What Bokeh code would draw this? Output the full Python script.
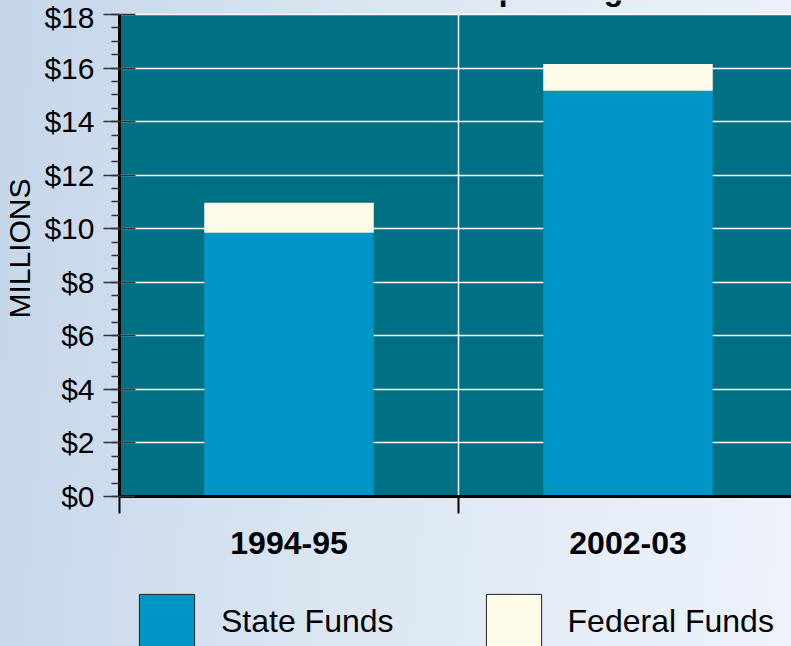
from bokeh.plotting import figure
from bokeh.layouts import column
from bokeh.models import (Range1d, LinearAxis, FixedTicker, SingleIntervalTicker,
                          Legend, LegendItem, Label, ColumnDataSource, Grid, BoxAnnotation)
from bokeh.embed import file_html
from bokeh.resources import INLINE

# ---- data ----
years = ["1994-95", "2002-03"]
state_funds = [9.85, 15.15]
federal_funds = [1.12, 1.0]
y_tick_labels = ["$0", "$2", "$4", "$6", "$8", "$10", "$12", "$14", "$16", "$18"]
y_max = 18
series_names = ["State Funds", "Federal Funds"]
series_colors = ["#0096c8", "#fffbe9"]

FONT = "Liberation Sans"
W, H_MAIN, H_LEG = 791, 580, 66
FRAME_H = 496          # frame from canvas top to the x axis
TOP_GAP = 14           # px above the $18 line
FRAME_LEFT = 120

x_pos = [i + 0.5 for i in range(len(years))]
boundaries = list(range(1, len(years)))
src = ColumnDataSource(dict(x=x_pos, state=state_funds, federal=federal_funds))

px_per_unit = (FRAME_H - TOP_GAP) / y_max
p = figure(width=W, height=H_MAIN, output_backend="svg", toolbar_location=None,
           x_range=Range1d(0, 672 / 339),
           y_range=Range1d(0, y_max + TOP_GAP / px_per_unit),
           x_axis_location=None, y_axis_location=None,
           min_border_left=119, min_border_top=0, min_border_right=0,
           min_border_bottom=H_MAIN - FRAME_H)
p.border_fill_color = None
p.background_fill_color = None
p.outline_line_color = None
p.center = [r for r in p.center if not isinstance(r, Grid)]

# teal plot area (0 .. y_max)
p.add_layout(BoxAnnotation(bottom=0, top=y_max, fill_color="#007085", fill_alpha=1,
                           line_color=None, level="image"))

# vertical grid line between categories, limited to the plot area
p.segment(x0=boundaries, y0=[0] * len(boundaries), x1=boundaries,
          y1=[y_max] * len(boundaries), line_color="white", line_width=1.5,
          level="underlay")

# bars
p.vbar_stack(["state", "federal"], x="x", width=0.5, source=src,
             color=series_colors, line_color=None)

# horizontal grid
p.add_layout(Grid(dimension=1, ticker=SingleIntervalTicker(interval=2),
                  grid_line_color="white", grid_line_width=1.5, bounds=(0, y_max)))

# left axis
yax = LinearAxis(ticker=SingleIntervalTicker(interval=2, num_minor_ticks=4),
                 major_label_overrides={i * 2: t for i, t in enumerate(y_tick_labels)},
                 axis_label="MILLIONS", bounds=(0, y_max))
yax.axis_line_color = "black"
yax.axis_line_width = 3
yax.major_tick_line_color = "#333333"
yax.major_tick_line_width = 1.5
yax.major_tick_out = 16
yax.major_tick_in = 16
yax.minor_tick_line_color = "#333333"
yax.minor_tick_line_width = 1.5
yax.minor_tick_out = 8
yax.minor_tick_in = 0
yax.major_label_text_font = FONT
yax.major_label_text_font_size = "30px"
yax.major_label_text_color = "black"
yax.major_label_standoff = 9
yax.axis_label_text_font = FONT
yax.axis_label_text_font_size = "30px"
yax.axis_label_text_font_style = "normal"
yax.axis_label_text_color = "black"
yax.axis_label_standoff = 5
p.add_layout(yax, "left")

# bottom axis with boundary ticks
xax = LinearAxis(ticker=FixedTicker(ticks=[0, 1, 2], minor_ticks=[]),
                 major_label_overrides={0: "", 1: "", 2: ""})
xax.axis_line_color = "black"
xax.axis_line_width = 3
xax.major_tick_line_color = "black"
xax.major_tick_line_width = 2
xax.major_tick_out = 17
xax.major_tick_in = 0
xax.major_label_text_font_size = "1px"
xax.major_label_standoff = 0
p.add_layout(xax, "below")

# bottom axis with category labels
xlab = LinearAxis(ticker=FixedTicker(ticks=x_pos, minor_ticks=[]),
                  major_label_overrides={x: y for x, y in zip(x_pos, years)})
xlab.axis_line_color = None
xlab.major_tick_line_color = None
xlab.major_label_text_font = FONT
xlab.major_label_text_font_size = "32px"
xlab.major_label_text_font_style = "bold"
xlab.major_label_text_color = "black"
xlab.major_label_standoff = 12
p.add_layout(xlab, "below")

# title (cut off at the top of the picture)
p.add_layout(Label(x=478 - FRAME_LEFT, y=FRAME_H + 12, x_units="screen", y_units="screen",
                   text="Spending", text_font=FONT, text_font_size="32px",
                   text_font_style="bold", text_color="black",
                   text_baseline="alphabetic"))

# ---- legend strip ----
lf = figure(width=W, height=H_LEG, output_backend="svg", toolbar_location=None,
            x_range=Range1d(0, 1), y_range=Range1d(0, 1),
            x_axis_location=None, y_axis_location=None,
            min_border=0, min_border_left=0, min_border_right=0,
            min_border_top=0, min_border_bottom=0)
lf.border_fill_color = None
lf.background_fill_color = None
lf.outline_line_color = None
lf.grid.visible = False
items = []
for name, col in zip(series_names, series_colors):
    dummy = ColumnDataSource(dict(x=[5.0], top=[5.0], bottom=[4.0]))
    r = lf.vbar(x="x", top="top", bottom="bottom", width=0.5, source=dummy,
                fill_color=col, line_color="#222222", line_width=1)
    items.append(LegendItem(label=name, renderers=[r]))
leg = Legend(items=items, orientation="horizontal", location=(133 - FRAME_LEFT, -10),
             glyph_width=69, glyph_height=69, label_standoff=20, spacing=85,
             padding=0, margin=0, border_line_color=None, background_fill_alpha=0,
             label_text_font=FONT, label_text_font_size="32px",
             label_text_color="black")
lf.add_layout(leg, "center")

layout = column(p, lf, spacing=0)
layout.styles = {"position": "fixed", "left": "0px", "top": "0px",
                 "background": "linear-gradient(95deg, #c5d6ea 0%, #dbe6f2 45%, #eef3fb 100%)"}

open("out.html", "w").write(file_html(layout, INLINE))
